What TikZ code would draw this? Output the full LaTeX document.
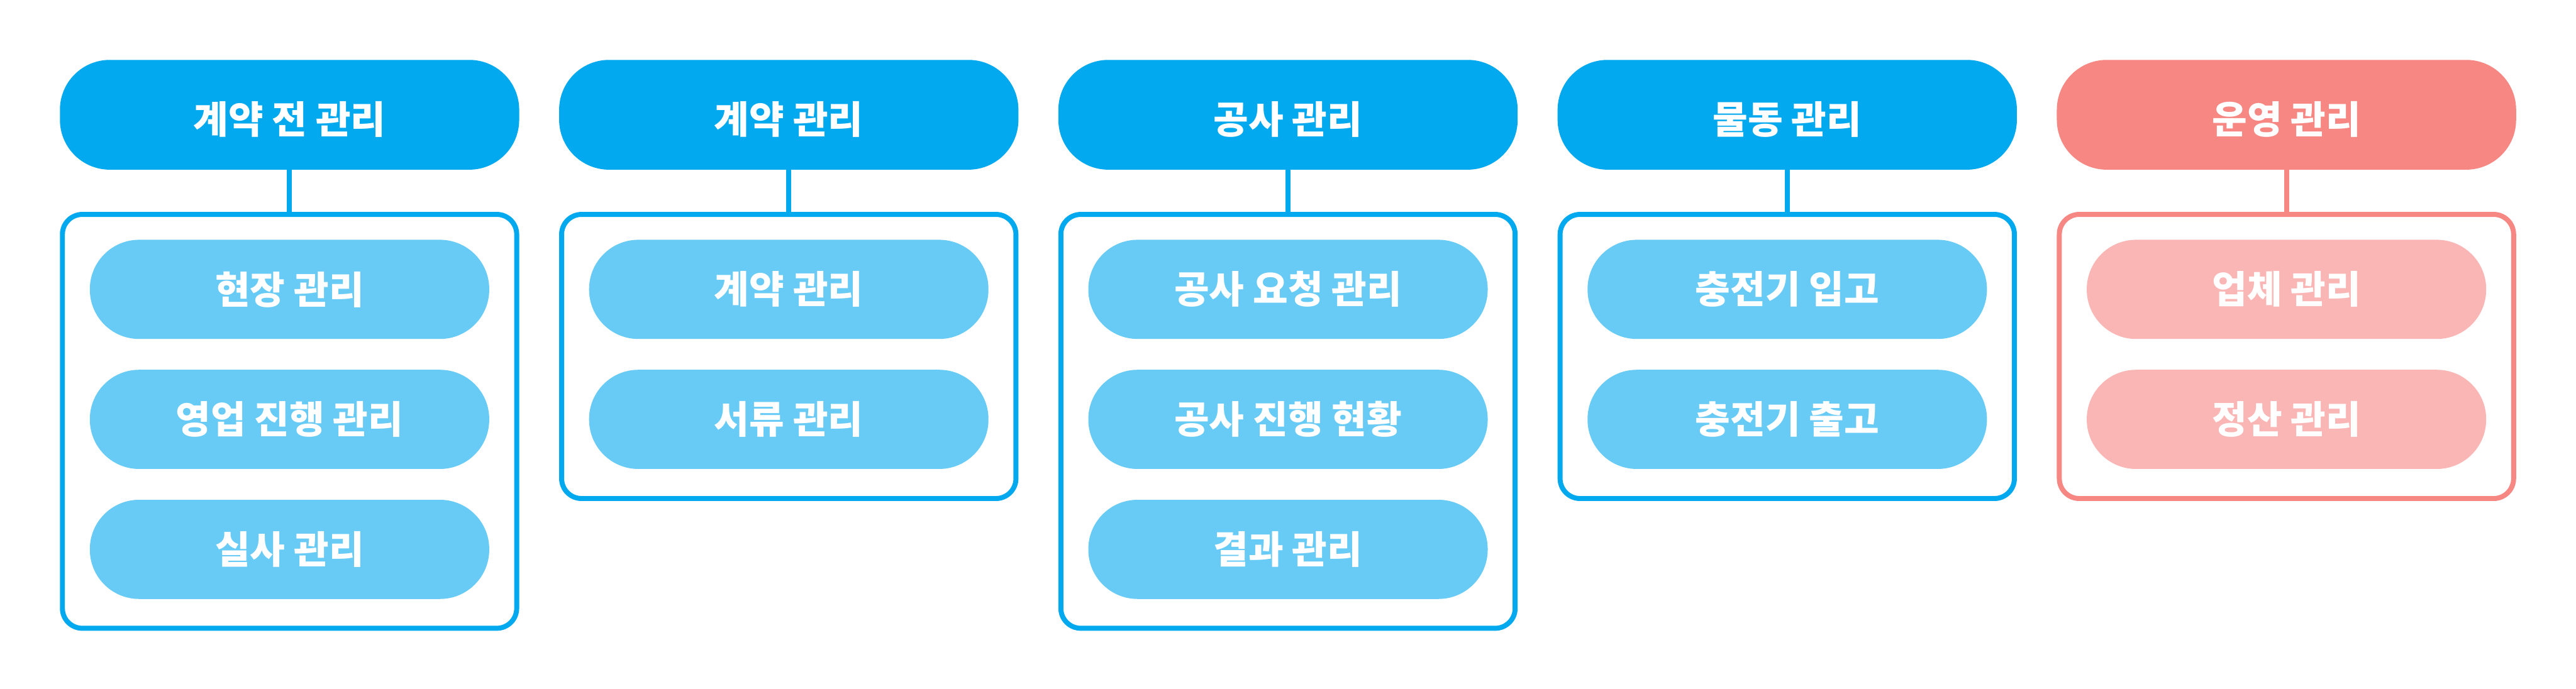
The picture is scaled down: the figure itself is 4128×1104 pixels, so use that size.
\documentclass[tikz,border=0pt]{standalone}
\usepackage{fontspec}
\newfontfamily\krfont{Noto Sans CJK KR}
\usepackage{xcolor}
\definecolor{Blue}{RGB}{3,169,239}
\definecolor{LightBlue}{RGB}{104,203,245}
\definecolor{Red}{RGB}{247,135,131}
\definecolor{LightRed}{RGB}{250,182,180}
\definecolor{White}{RGB}{255,255,255}
\usetikzlibrary{positioning}

% header text sits a little below the middle
\newcommand{\lowtext}[1]{\raisebox{-8pt}{\smash{#1}}\vphantom{#1}}

\tikzset{
	head/.style={fill=#1, rounded corners=80pt, minimum width=736pt, minimum height=176pt, inner sep=0pt, text=White, font=\krfont\bfseries\fontsize{61}{61}\selectfont},
	group/.style={draw=#1, line width=8pt, rounded corners=32pt, minimum width=728pt, inner sep=0pt},
	item/.style={fill=#1, rounded corners=79pt, minimum width=640pt, minimum height=159pt, inner sep=0pt, text=White, font=\krfont\bfseries\fontsize{61}{61}\selectfont},
	link/.style={draw=#1, line width=8pt}
}

\begin{document}
\begin{tikzpicture}[x=1pt, y=1pt]
	
	\useasboundingbox (0,0) rectangle (4128,-1104);
	
	% Headers
	\node[head=Blue] (head1) at (464,-184) {\lowtext{계약 전 관리}};
	\node[head=Blue] (head2) at (1264,-184) {\lowtext{계약 관리}};
	\node[head=Blue] (head3) at (2064,-184) {\lowtext{공사 관리}};
	\node[head=Blue] (head4) at (2864,-184) {\lowtext{물동 관리}};
	\node[head=Red] (head5) at (3664,-184) {\lowtext{운영 관리}};
	
	% Groups
	\node[group=Blue, minimum height=663.5pt, below=67.5pt of head1] (box1) {};
	\node[group=Blue, minimum height=455.5pt, below=67.5pt of head2] (box2) {};
	\node[group=Blue, minimum height=663.5pt, below=67.5pt of head3] (box3) {};
	\node[group=Blue, minimum height=455.5pt, below=67.5pt of head4] (box4) {};
	\node[group=Red, minimum height=455.5pt, below=67.5pt of head5] (box5) {};
	
	% Links
	\draw[link=Blue] (head1.south) -- (box1.north);
	\draw[link=Blue] (head2.south) -- (box2.north);
	\draw[link=Blue] (head3.south) -- (box3.north);
	\draw[link=Blue] (head4.south) -- (box4.north);
	\draw[link=Red] (head5.south) -- (box5.north);
	
	% Items
	\node[item=LightBlue, below=112pt of head1] (item11) {현장 관리};
	\node[item=LightBlue, below=49pt of item11] (item12) {영업 진행 관리};
	\node[item=LightBlue, below=49pt of item12] (item13) {실사 관리};
	
	\node[item=LightBlue, below=112pt of head2] (item21) {계약 관리};
	\node[item=LightBlue, below=49pt of item21] (item22) {서류 관리};
	
	\node[item=LightBlue, below=112pt of head3] (item31) {공사 요청 관리};
	\node[item=LightBlue, below=49pt of item31] (item32) {공사 진행 현황};
	\node[item=LightBlue, below=49pt of item32] (item33) {결과 관리};
	
	\node[item=LightBlue, below=112pt of head4] (item41) {충전기 입고};
	\node[item=LightBlue, below=49pt of item41] (item42) {충전기 출고};
	
	\node[item=LightRed, below=112pt of head5] (item51) {업체 관리};
	\node[item=LightRed, below=49pt of item51] (item52) {정산 관리};
	
\end{tikzpicture}
\end{document}
